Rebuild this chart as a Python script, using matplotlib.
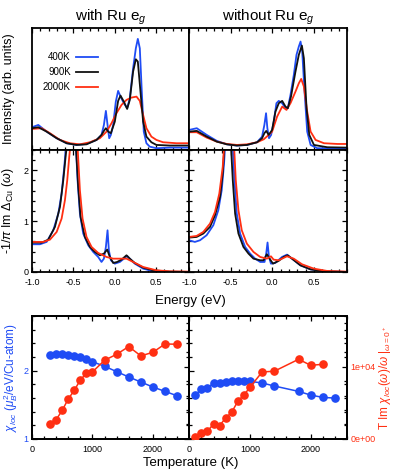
import matplotlib
matplotlib.use('Agg')
import matplotlib.pyplot as plt
from matplotlib.ticker import MultipleLocator

plt.rcParams['font.family'] = ['Liberation Sans', 'DejaVu Sans']
plt.rcParams['mathtext.fontset'] = 'custom'
plt.rcParams['mathtext.rm'] = 'Liberation Sans'
plt.rcParams['mathtext.it'] = 'Liberation Sans:italic'
plt.rcParams['mathtext.bf'] = 'Liberation Sans:bold'

BLUE = '#1f4cf5'
RED = '#ff2f12'
BLACK = '#111111'

# ---- spectra, "with Ru eg" (top left)
e_top_with_400 = [-1.00, -0.924, -0.823, -0.702, -0.582, -0.461, -0.341, -0.220, -0.160, -0.131, -0.107,
                  -0.087, -0.067, -0.047, -0.019, 0.013, 0.041, 0.070, 0.110, 0.150, 0.182, 0.222, 0.255,
                  0.279, 0.303, 0.327, 0.351, 0.383, 0.423, 0.504, 0.665, 0.906]
a_top_with_400 = [0.186, 0.205, 0.150, 0.096, 0.055, 0.041, 0.049, 0.082, 0.123, 0.205, 0.320,
                  0.205, 0.096, 0.123, 0.205, 0.396, 0.484, 0.437, 0.383, 0.342, 0.423, 0.669, 0.833,
                  0.910, 0.833, 0.478, 0.150, 0.055, 0.027, 0.014, 0.019, 0.019]
e_top_with_900 = [-1.00, -0.924, -0.823, -0.702, -0.582, -0.461, -0.341, -0.220, -0.160, -0.131, -0.107,
                  -0.079, -0.047, 0.001, 0.041, 0.070, 0.110, 0.150, 0.182, 0.222, 0.255, 0.279, 0.311,
                  0.343, 0.383, 0.443, 0.504, 0.665, 0.906]
a_top_with_900 = [0.178, 0.186, 0.150, 0.096, 0.055, 0.041, 0.046, 0.082, 0.123, 0.156, 0.178,
                  0.150, 0.137, 0.232, 0.402, 0.445, 0.396, 0.336, 0.410, 0.642, 0.743, 0.724, 0.478,
                  0.232, 0.109, 0.063, 0.041, 0.036, 0.036]
e_top_with_2000 = [-1.00, -0.883, -0.783, -0.662, -0.542, -0.421, -0.300, -0.180, -0.099, -0.039, 0.021,
                   0.082, 0.142, 0.202, 0.263, 0.303, 0.343, 0.383, 0.443, 0.504, 0.584, 0.745, 0.906]
a_top_with_2000 = [0.172, 0.178, 0.137, 0.082, 0.055, 0.046, 0.063, 0.096, 0.150, 0.219, 0.301,
                   0.369, 0.410, 0.429, 0.437, 0.402, 0.287, 0.178, 0.109, 0.082, 0.063, 0.055, 0.055]

# ---- spectra, "without Ru eg" (top right)
e_top_wo_400 = [-1.00, -0.909, -0.789, -0.668, -0.547, -0.426, -0.305, -0.184, -0.124, -0.096, -0.076,
                -0.060, -0.040, -0.015, 0.017, 0.049, 0.077, 0.118, 0.158, 0.186, 0.218, 0.258, 0.290,
                0.318, 0.339, 0.359, 0.387, 0.419, 0.460, 0.540, 0.661, 0.903]
a_top_wo_400 = [0.164, 0.178, 0.123, 0.074, 0.046, 0.036, 0.041, 0.063, 0.109, 0.205, 0.301,
                0.178, 0.096, 0.123, 0.232, 0.383, 0.402, 0.383, 0.342, 0.342, 0.451, 0.615, 0.779,
                0.847, 0.888, 0.806, 0.478, 0.150, 0.041, 0.014, 0.014, 0.014]
e_top_wo_900 = [-1.00, -0.909, -0.789, -0.668, -0.547, -0.426, -0.305, -0.184, -0.124, -0.096, -0.074,
                -0.044, -0.003, 0.037, 0.077, 0.118, 0.158, 0.186, 0.224, 0.278, 0.318, 0.355, 0.379,
                0.411, 0.444, 0.500, 0.661, 0.903]
a_top_wo_900 = [0.150, 0.156, 0.109, 0.068, 0.046, 0.036, 0.041, 0.063, 0.096, 0.137, 0.156,
                0.123, 0.164, 0.314, 0.383, 0.402, 0.355, 0.342, 0.437, 0.642, 0.779, 0.855, 0.751,
                0.342, 0.123, 0.041, 0.022, 0.019]
e_top_wo_2000 = [-1.00, -0.909, -0.789, -0.668, -0.547, -0.426, -0.305, -0.184, -0.104, -0.044, -0.003,
                 0.057, 0.118, 0.170, 0.218, 0.278, 0.318, 0.347, 0.379, 0.419, 0.460, 0.520, 0.621,
                 0.782, 0.903]
a_top_wo_2000 = [0.145, 0.145, 0.101, 0.068, 0.049, 0.041, 0.046, 0.063, 0.087, 0.123, 0.150,
                 0.273, 0.355, 0.328, 0.383, 0.478, 0.546, 0.582, 0.519, 0.314, 0.150, 0.082, 0.055,
                 0.049, 0.049]

# ---- hybridization, "with Ru eg" (middle left)
e_hyb_with_400 = [-1.0, -0.904, -0.823, -0.743, -0.682, -0.642, -0.610, -0.590, -0.53, -0.469, -0.449,
                  -0.421, -0.381, -0.320, -0.260, -0.200, -0.160, -0.131, -0.107, -0.087, -0.071, -0.047,
                  0.001, 0.062, 0.122, 0.150, 0.182, 0.242, 0.343, 0.464, 0.584, 0.90]
d_hyb_with_400 = [0.545, 0.545, 0.591, 0.820, 1.148, 1.542, 2.067, 2.46, 3.2, 2.46, 1.80,
                  1.148, 0.755, 0.525, 0.394, 0.295, 0.197, 0.262, 0.492, 0.820, 0.427, 0.230,
                  0.164, 0.197, 0.276, 0.315, 0.262, 0.164, 0.066, 0.013, 0.0, 0.0]
e_hyb_with_900 = [-1.0, -0.883, -0.803, -0.723, -0.662, -0.622, -0.590, -0.578, -0.52, -0.469, -0.441,
                  -0.413, -0.361, -0.300, -0.240, -0.180, -0.131, -0.091, -0.059, -0.019, 0.029, 0.082,
                  0.142, 0.182, 0.242, 0.343, 0.464, 0.665, 0.90]
d_hyb_with_900 = [0.577, 0.577, 0.636, 0.886, 1.280, 1.804, 2.33, 2.46, 3.2, 2.46, 1.673,
                  1.083, 0.689, 0.492, 0.394, 0.328, 0.361, 0.44, 0.295, 0.177, 0.197, 0.243,
                  0.328, 0.262, 0.177, 0.085, 0.033, 0.007, 0.0]
e_hyb_with_2000 = [-1.0, -0.863, -0.783, -0.702, -0.642, -0.602, -0.574, -0.550, -0.538, -0.49, -0.449,
                   -0.421, -0.389, -0.341, -0.280, -0.200, -0.099, -0.019, 0.062, 0.142, 0.222, 0.343,
                   0.504, 0.665, 0.90]
d_hyb_with_2000 = [0.591, 0.591, 0.636, 0.787, 1.050, 1.411, 1.804, 2.264, 2.46, 3.2, 2.46,
                   1.608, 1.050, 0.689, 0.492, 0.374, 0.295, 0.262, 0.262, 0.262, 0.197, 0.098,
                   0.033, 0.013, 0.007]

# ---- hybridization, "without Ru eg" (middle right)
e_hyb_wo_400 = [-1.0, -0.932, -0.871, -0.791, -0.710, -0.650, -0.609, -0.581, -0.569, -0.52, -0.476,
                -0.456, -0.428, -0.388, -0.327, -0.267, -0.207, -0.146, -0.094, -0.074, -0.058, -0.041,
                -0.017, 0.035, 0.116, 0.176, 0.236, 0.337, 0.458, 0.619, 0.90]
d_hyb_wo_400 = [0.623, 0.591, 0.623, 0.722, 0.919, 1.214, 1.608, 2.133, 2.46, 3.2, 2.46,
                1.804, 1.148, 0.755, 0.492, 0.361, 0.262, 0.197, 0.197, 0.361, 0.58, 0.295,
                0.164, 0.177, 0.295, 0.341, 0.262, 0.131, 0.052, 0.013, 0.0]
e_hyb_wo_900 = [-1.0, -0.911, -0.831, -0.750, -0.690, -0.629, -0.597, -0.577, -0.53, -0.497, -0.476,
                -0.448, -0.408, -0.348, -0.287, -0.227, -0.146, -0.106, -0.066, -0.033, 0.007, 0.075,
                0.136, 0.184, 0.236, 0.337, 0.458, 0.619, 0.90]
d_hyb_wo_900 = [0.676, 0.689, 0.755, 0.886, 1.115, 1.476, 1.936, 2.46, 3.2, 2.46, 1.804,
                1.148, 0.755, 0.492, 0.361, 0.262, 0.230, 0.230, 0.348, 0.262, 0.164, 0.217,
                0.295, 0.328, 0.262, 0.131, 0.052, 0.013, 0.0]
e_hyb_wo_2000 = [-1.0, -0.911, -0.831, -0.750, -0.690, -0.638, -0.597, -0.581, -0.52, -0.460, -0.440,
                 -0.408, -0.368, -0.307, -0.227, -0.146, -0.066, -0.017, 0.015, 0.075, 0.176, 0.257,
                 0.357, 0.498, 0.659, 0.90]
d_hyb_wo_2000 = [0.689, 0.709, 0.787, 0.951, 1.181, 1.542, 2.067, 2.46, 3.2, 2.46, 1.804,
                 1.214, 0.820, 0.558, 0.394, 0.295, 0.262, 0.308, 0.243, 0.230, 0.308, 0.262,
                 0.151, 0.066, 0.020, 0.007]

# ---- local susceptibility vs temperature (bottom)
t_with = [300, 400, 500, 600, 700, 800, 900, 1000, 1200, 1400, 1600, 1800, 2000, 2200, 2400]
chi_with = [2.23, 2.245, 2.245, 2.235, 2.216, 2.20, 2.17, 2.13, 2.064, 1.985, 1.907, 1.833, 1.76,
            1.696, 1.632]
tim_with = [2120, 2670, 3960, 5530, 6730, 8160, 9080, 9260, 10880, 11700, 12770, 11480, 11980,
            13130, 13090]
t_wo_chi = [100, 200, 300, 400, 500, 600, 700, 800, 900, 1000, 1200, 1400, 1800, 2000, 2200, 2400]
chi_wo = [1.647, 1.725, 1.75, 1.814, 1.819, 1.828, 1.853, 1.853, 1.853, 1.843, 1.819, 1.775,
          1.696, 1.642, 1.608, 1.598]
t_wo_tim = [100, 200, 300, 400, 500, 600, 700, 800, 900, 1000, 1200, 1400, 1800, 2000, 2200]
tim_wo = [280, 780, 1060, 2070, 1840, 2900, 3690, 5210, 6080, 7140, 9260, 9360, 11010, 10180, 10320]

legend_labels = ['400K', '900K', '2000K']

fig = plt.figure(figsize=(3.95, 4.73), dpi=100)

L0, W0 = 0.081, 0.398
L1, W1 = 0.479, 0.400
ax_tl = fig.add_axes([L0, 0.683, W0, 0.258])
ax_tr = fig.add_axes([L1, 0.683, W1, 0.258])
ax_ml = fig.add_axes([L0, 0.425, W0, 0.258])
ax_mr = fig.add_axes([L1, 0.425, W1, 0.258])
ax_bl = fig.add_axes([L0, 0.072, W0, 0.260])
ax_br = fig.add_axes([L1, 0.072, W1, 0.260])

TICK_FS = 6.5


def style(ax):
    for s in ax.spines.values():
        s.set_linewidth(1.3)
    ax.tick_params(which='both', direction='in', top=True, bottom=True, left=True, right=True,
                   labelsize=TICK_FS, width=0.9, pad=2.5)
    ax.tick_params(axis='x', pad=4.5)
    ax.tick_params(which='major', length=3.5)
    ax.tick_params(which='minor', length=2)


lw = 1.3
for ax, curves in [
    (ax_tl, [(e_top_with_400, a_top_with_400, BLUE), (e_top_with_2000, a_top_with_2000, RED),
             (e_top_with_900, a_top_with_900, BLACK)]),
    (ax_tr, [(e_top_wo_400, a_top_wo_400, BLUE), (e_top_wo_2000, a_top_wo_2000, RED),
             (e_top_wo_900, a_top_wo_900, BLACK)]),
    (ax_ml, [(e_hyb_with_400, d_hyb_with_400, BLUE), (e_hyb_with_900, d_hyb_with_900, BLACK),
             (e_hyb_with_2000, d_hyb_with_2000, RED)]),
    (ax_mr, [(e_hyb_wo_400, d_hyb_wo_400, BLUE), (e_hyb_wo_900, d_hyb_wo_900, BLACK),
             (e_hyb_wo_2000, d_hyb_wo_2000, RED)]),
]:
    for e, v, c in curves:
        ax.plot(e, v, color=c, lw=lw, solid_joinstyle='round')
    style(ax)
    ax.set_xlim(-1.0, 0.9)
    ax.xaxis.set_major_locator(MultipleLocator(0.5))
    ax.xaxis.set_minor_locator(MultipleLocator(0.1))

for ax in (ax_tl, ax_tr):
    ax.set_ylim(0, 1)
    ax.set_yticks([])
    ax.tick_params(labelbottom=False, left=False, right=False)

for ax in (ax_ml, ax_mr):
    ax.set_ylim(0, 2.4)
    ax.yaxis.set_major_locator(MultipleLocator(1))
    ax.yaxis.set_minor_locator(MultipleLocator(0.2))
    ax.set_xticks([-1.0, -0.5, 0.0, 0.5])
    ax.set_xticklabels(['-1.0', '-0.5', '0.0', '0.5'])
ax_mr.tick_params(labelleft=False)

# legend
hs = [plt.Line2D([], [], color=c, lw=lw) for c in (BLUE, BLACK, RED)]
ax_tl.legend(hs, legend_labels, loc='upper right', bbox_to_anchor=(0.42, 0.80), frameon=False,
             markerfirst=False, fontsize=7, handlelength=2.3, handletextpad=0.5,
             labelspacing=0.5, borderpad=0, borderaxespad=0)

ax_tl.set_title('with Ru e$_g$', fontsize=11, pad=5)
ax_tr.set_title('without Ru e$_g$', fontsize=11, pad=5)
ax_tl.set_ylabel('Intensity (arb. units)', fontsize=9)
ax_tl.yaxis.set_label_coords(-0.105, 0.5)
ax_ml.set_ylabel(r'-1/$\pi$ Im $\Delta_{\rm Cu}$ ($\omega$)', fontsize=9)
ax_ml.yaxis.set_label_coords(-0.10, 0.5)
fig.text(0.482, 1 - 301 / 473, 'Energy (eV)', ha='center', va='center', fontsize=9.5)

# bottom
ms = 5.2
twins = []
for ax, tc, chi, tt, tim in [(ax_bl, t_with, chi_with, t_with, tim_with),
                             (ax_br, t_wo_chi, chi_wo, t_wo_tim, tim_wo)]:
    ax2 = ax.twinx()
    ax.plot(tc, chi, '-o', color=BLUE, lw=1.1, ms=ms, zorder=3)
    ax2.plot(tt, tim, '-o', color=RED, lw=1.1, ms=ms, zorder=3)
    style(ax)
    ax.tick_params(right=False)
    ax2.tick_params(which='both', direction='in', right=True, left=False, labelsize=TICK_FS,
                    width=0.9, pad=2.5, labelcolor=RED)
    ax2.tick_params(which='major', length=3.5)
    ax2.tick_params(which='minor', length=2)
    ax.set_xlim(0, 2600)
    ax.xaxis.set_major_locator(MultipleLocator(1000))
    ax.xaxis.set_minor_locator(MultipleLocator(200))
    ax.set_ylim(1, 2.8)
    ax.yaxis.set_major_locator(MultipleLocator(1))
    ax.yaxis.set_minor_locator(MultipleLocator(0.2))
    ax.tick_params(axis='y', labelcolor=BLUE)
    ax2.set_ylim(0, 17000)
    ax2.set_yticks([0, 10000])
    ax2.set_yticklabels(['0e+00', '1e+04'])
    ax2.yaxis.set_minor_locator(MultipleLocator(2000))
    for s in ax2.spines.values():
        s.set_linewidth(1.3)
    twins.append(ax2)

twins[0].tick_params(labelright=False)
ax_br.tick_params(labelleft=False)
ax_bl.set_ylabel(r'$\chi_{loc}$ ($\mu_B^2$/eV/Cu-atom)', fontsize=8.5, color=BLUE)
ax_bl.yaxis.set_label_coords(-0.075, 0.5)
twins[1].set_ylabel(r'T Im $\chi_{loc}(\omega)/\omega\ |_{\omega=0^+}$', fontsize=8.5, color=RED)
twins[1].yaxis.set_label_coords(1.19, 0.5)
fig.text(0.482, 1 - 463 / 473, 'Temperature (K)', ha='center', va='center', fontsize=9.5)

fig.savefig('out.png', dpi=100)
